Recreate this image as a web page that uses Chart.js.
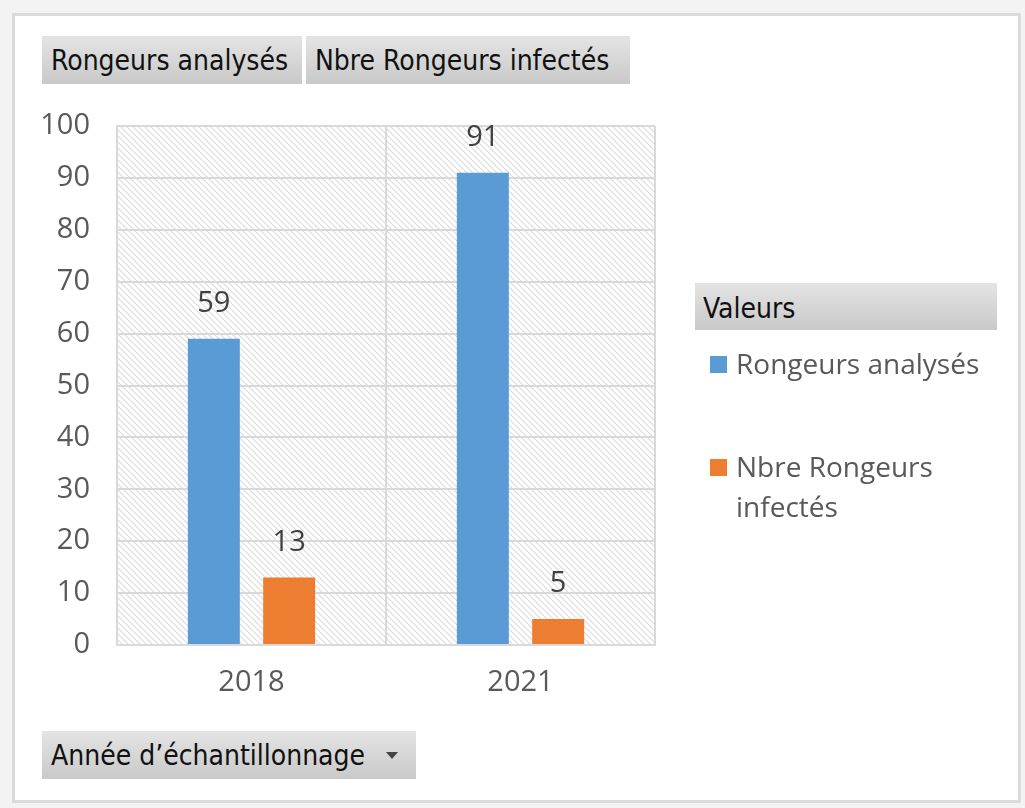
<!DOCTYPE html>
<html>
<head>
<meta charset="utf-8">
<script src="https://cdn.jsdelivr.net/npm/chart.js@4"></script>
<style>
  html, body { margin: 0; padding: 0; }
  body { width: 1025px; height: 808px; background: #f3f3f3; position: relative; overflow: hidden; font-family: "Open Sans", sans-serif; }
  #frame { position: absolute; left: 12px; top: 13px; width: 1003px; height: 784px; background: #fff; border: 3px solid #dadada; }
  #chartBox { position: absolute; left: 0; top: 0; width: 1025px; height: 808px; }
  .field { position: absolute; height: 48px; line-height: 50px; background: linear-gradient(#e4e4e4, #c9c9c9); color: #111; font-family: "DejaVu Sans Condensed", sans-serif; font-size: 28px; padding-left: 9px; box-sizing: border-box; white-space: nowrap; }
  #legend { position: absolute; left: 695px; top: 283px; width: 302px; }
  #legend .title { height: 47px; line-height: 52px; background: linear-gradient(#e4e4e4, #c9c9c9); color: #111; font-family: "DejaVu Sans Condensed", sans-serif; font-size: 28px; padding-left: 8px; }
  #legend .item { position: relative; height: 103px; padding-left: 41px; color: #595959; font-size: 28px; line-height: 40px; box-sizing: border-box; padding-top: 13px; }
  #legend .sw { position: absolute; left: 15px; top: 26px; width: 17px; height: 17px; }
  .arrow { position: absolute; right: 18px; top: 21px; width: 0; height: 0; border-left: 6px solid transparent; border-right: 6px solid transparent; border-top: 7px solid #444; }
</style>
</head>
<body>
<div id="frame"></div>
<div id="chartBox"><canvas id="myChart"></canvas></div>
<div class="field" style="left:42px; top:36px; width:260px;">Rongeurs analysés</div>
<div class="field" style="left:306px; top:36px; width:324px;">Nbre Rongeurs infectés</div>
<div class="field" style="left:42px; top:731px; width:374px;">Année d’échantillonnage<span class="arrow"></span></div>
<div id="legend"></div>
<script>
const years = ['2018', '2021'];
const seriesNames = ['Rongeurs analysés', 'Nbre Rongeurs infectés'];
const analysed = [59, 91];
const infected = [13, 5];
const colors = ['#5b9bd5', '#ed7d31'];

// hatch pattern for plot background
function makeHatch() {
  const c = document.createElement('canvas');
  c.width = 6; c.height = 6;
  const g = c.getContext('2d');
  g.fillStyle = '#ffffff';
  g.fillRect(0, 0, 6, 6);
  g.strokeStyle = '#dcdcdc';
  g.lineWidth = 1.2;
  g.beginPath();
  g.moveTo(-1, -1); g.lineTo(7, 7);
  g.moveTo(-1, 5); g.lineTo(1, 7);
  g.moveTo(5, -1); g.lineTo(7, 1);
  g.stroke();
  return g.createPattern(c, 'repeat');
}

const hatchPlugin = {
  id: 'hatch',
  beforeDraw(chart) {
    const {ctx, chartArea: a} = chart;
    ctx.save();
    ctx.fillStyle = makeHatch();
    ctx.fillRect(a.left, a.top, a.right - a.left, a.bottom - a.top);
    ctx.restore();
  }
};

const valueLabels = {
  id: 'valueLabels',
  afterDatasetsDraw(chart) {
    const ctx = chart.ctx;
    ctx.save();
    ctx.font = '29px "Open Sans"';
    ctx.fillStyle = '#404040';
    ctx.textAlign = 'center';
    ctx.textBaseline = 'middle';
    chart.data.datasets.forEach((ds, i) => {
      chart.getDatasetMeta(i).data.forEach((bar, j) => {
        ctx.fillText(ds.data[j], bar.x, bar.y - 35);
      });
    });
    ctx.restore();
  }
};

const htmlLegend = {
  id: 'htmlLegend',
  afterUpdate(chart) {
    const box = document.getElementById('legend');
    box.innerHTML = '<div class="title">Valeurs</div>';
    chart.data.datasets.forEach(ds => {
      const item = document.createElement('div');
      item.className = 'item';
      const name = ds.label === 'Nbre Rongeurs infectés' ? 'Nbre Rongeurs<br>infectés' : ds.label;
      item.innerHTML = '<span class="sw" style="background:' + ds.backgroundColor + '"></span>' + name;
      box.appendChild(item);
    });
  }
};

const ctx = document.getElementById('myChart');
new Chart(ctx, {
  type: 'bar',
  data: {
    labels: years,
    datasets: [
      {label: seriesNames[0], data: analysed, backgroundColor: colors[0]},
      {label: seriesNames[1], data: infected, backgroundColor: colors[1]}
    ]
  },
  options: {
    responsive: true,
    maintainAspectRatio: false,
    animation: false,
    categoryPercentage: 0.56,
    barPercentage: 0.69,
    layout: {padding: {top: 126, right: 370, bottom: 0, left: 0}},
    plugins: {legend: {display: false}, tooltip: {enabled: false}},
    scales: {
      x: {
        afterFit: s => { s.height = 163; },
        grid: {color: '#d9d9d9', lineWidth: 2, drawTicks: false, offset: true},
        border: {color: '#d9d9d9', width: 2},
        ticks: {color: '#595959', font: {family: 'Open Sans', size: 29}, padding: 20}
      },
      y: {
        min: 0, max: 100,
        afterFit: s => { s.width = 117; },
        grid: {color: '#d9d9d9', lineWidth: 2, drawTicks: false},
        border: {color: '#d9d9d9', width: 2},
        ticks: {stepSize: 10, color: '#595959', font: {family: 'Open Sans', size: 29}, padding: 27}
      }
    }
  },
  plugins: [hatchPlugin, valueLabels, htmlLegend]
});
</script>
</body>
</html>
